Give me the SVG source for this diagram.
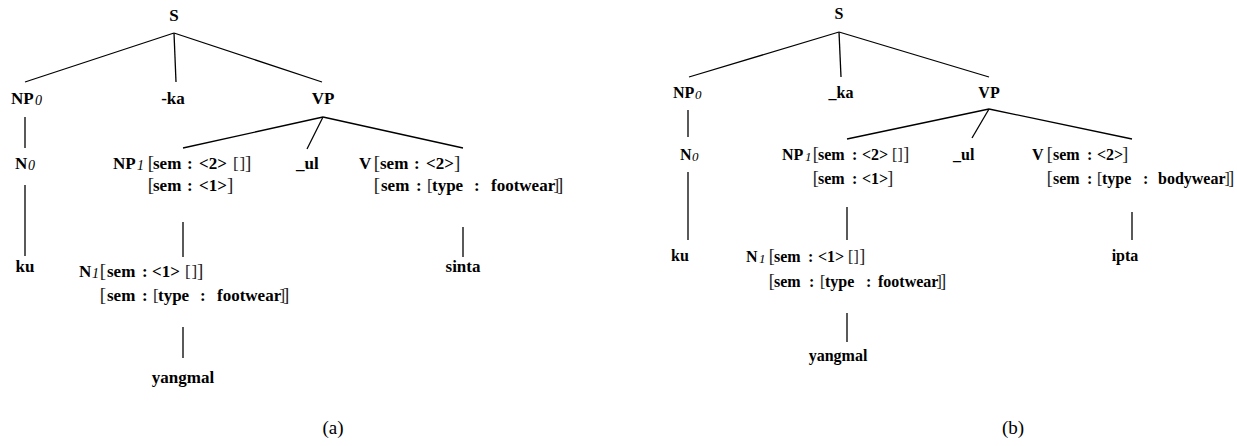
<svg xmlns="http://www.w3.org/2000/svg" width="1237" height="446" viewBox="0 0 1237 446">
<style>
text{font-family:'Liberation Serif','Times New Roman',serif;fill:#000}
.L text{font-size:17px;font-weight:bold}
.R text{font-size:16px;font-weight:bold}
.s{font-style:italic;font-weight:normal}
.L .s{font-size:14px}
.R .s{font-size:13px}
.bo{fill:#222;font-weight:normal}
.L .bo{font-size:19px}
.L .bi{font-size:17px}
.R .bo{font-size:18px}
.R .bi{font-size:16px}
.cap{font-size:19px;font-weight:normal}
#edges line{stroke:#000;stroke-width:1.3}
</style>
<rect width="1237" height="446" fill="#fff"/>
<g id="edges">
<line x1="174" y1="33" x2="25" y2="82"/>
<line x1="174" y1="33" x2="176" y2="82"/>
<line x1="174" y1="33" x2="322" y2="82"/>
<line x1="25" y1="117" x2="25" y2="148"/>
<line x1="25" y1="185" x2="25" y2="256"/>
<line x1="323" y1="117" x2="183" y2="148"/>
<line x1="323" y1="117" x2="307" y2="149"/>
<line x1="323" y1="117" x2="463" y2="148"/>
<line x1="183" y1="222" x2="183" y2="257"/>
<line x1="463" y1="227" x2="463" y2="257"/>
<line x1="183" y1="327" x2="183" y2="358"/>
<line x1="839" y1="32" x2="689" y2="77"/>
<line x1="839" y1="32" x2="841" y2="77"/>
<line x1="839" y1="32" x2="989" y2="77"/>
<line x1="688" y1="110" x2="688" y2="137"/>
<line x1="688" y1="172" x2="688" y2="240"/>
<line x1="989" y1="109" x2="847" y2="139"/>
<line x1="989" y1="109" x2="972" y2="138"/>
<line x1="989" y1="109" x2="1132" y2="139"/>
<line x1="847" y1="207" x2="847" y2="240"/>
<line x1="1132" y1="212" x2="1132" y2="240"/>
<line x1="847" y1="313" x2="847" y2="342"/>
</g>
<g class="L">
<g id="a-S"><text x="174" y="21" text-anchor="middle">S</text></g>
<g id="a-NP0"><text x="11" y="104">NP<tspan class="s" x="35" y="105">0</tspan></text></g>
<g id="a-ka"><text x="173" y="104" text-anchor="middle">-ka</text></g>
<g id="a-VP"><text x="323" y="104" text-anchor="middle">VP</text></g>
<g id="a-N0"><text x="15" y="169">N<tspan class="s" x="28" y="170">0</tspan></text></g>
<g id="a-ku"><text x="25" y="272" text-anchor="middle">ku</text></g>
<g id="a-NP1">
<text x="113" y="169">NP<tspan class="s" x="137" y="170">1</tspan></text>
<text y="169"><tspan class="bo" x="147.7">[</tspan><tspan x="153">sem</tspan><tspan x="187">:</tspan><tspan x="199">&lt;2&gt;</tspan><tspan class="bo bi" x="233">[</tspan><tspan class="bo bi" x="239.4">]</tspan><tspan class="bo" x="245">]</tspan></text>
<text y="191"><tspan class="bo" x="147.7">[</tspan><tspan x="153">sem</tspan><tspan x="187">:</tspan><tspan x="199">&lt;1&gt;</tspan><tspan class="bo" x="227">]</tspan></text>
</g>
<g id="a-ul"><text x="296" y="169">_ul</text></g>
<g id="a-V">
<text x="359" y="169">V</text>
<text y="169"><tspan class="bo" x="373.7">[</tspan><tspan x="380">sem</tspan><tspan x="414">:</tspan><tspan x="426">&lt;2&gt;</tspan><tspan class="bo" x="454">]</tspan></text>
<text y="191"><tspan class="bo" x="373.7">[</tspan><tspan x="381">sem</tspan><tspan x="416">:</tspan><tspan class="bo bi" x="427">[</tspan><tspan x="432">type</tspan><tspan x="474">:</tspan><tspan x="491">footwear</tspan><tspan class="bo bi" x="553.4">]</tspan><tspan class="bo" x="557">]</tspan></text>
</g>
<g id="a-sinta"><text x="463" y="272" text-anchor="middle">sinta</text></g>
<g id="a-N1">
<text x="79" y="277">N<tspan class="s" x="92" y="278">1</tspan></text>
<text y="277"><tspan class="bo" x="99.7">[</tspan><tspan x="107">sem</tspan><tspan x="142">:</tspan><tspan x="152">&lt;1&gt;</tspan><tspan class="bo bi" x="185">[</tspan><tspan class="bo bi" x="191.4">]</tspan><tspan class="bo" x="197">]</tspan></text>
<text y="301"><tspan class="bo" x="99.7">[</tspan><tspan x="107">sem</tspan><tspan x="142">:</tspan><tspan class="bo bi" x="153">[</tspan><tspan x="158">type</tspan><tspan x="200">:</tspan><tspan x="217">footwear</tspan><tspan class="bo bi" x="279.4">]</tspan><tspan class="bo" x="283">]</tspan></text>
</g>
<g id="a-yangmal"><text x="183" y="383" text-anchor="middle">yangmal</text></g>
</g>
<g class="R">
<g id="b-S"><text x="839" y="19" text-anchor="middle">S</text></g>
<g id="b-NP0"><text x="673" y="98">NP<tspan class="s" x="695" y="99">0</tspan></text></g>
<g id="b-ka"><text x="841" y="98" text-anchor="middle">_ka</text></g>
<g id="b-VP"><text x="989" y="98" text-anchor="middle">VP</text></g>
<g id="b-N0"><text x="680" y="160">N<tspan class="s" x="692" y="161">0</tspan></text></g>
<g id="b-ku"><text x="680" y="261" text-anchor="middle">ku</text></g>
<g id="b-NP1">
<text x="782" y="160">NP<tspan class="s" x="805" y="161">1</tspan></text>
<text y="160"><tspan class="bo" x="812.8">[</tspan><tspan x="818">sem</tspan><tspan x="852">:</tspan><tspan x="862">&lt;2&gt;</tspan><tspan class="bo bi" x="892">[</tspan><tspan class="bo bi" x="897.6">]</tspan><tspan class="bo" x="903.2">]</tspan></text>
<text y="184"><tspan class="bo" x="812.8">[</tspan><tspan x="818">sem</tspan><tspan x="852">:</tspan><tspan x="862">&lt;1&gt;</tspan><tspan class="bo" x="887.2">]</tspan></text>
</g>
<g id="b-ul"><text x="953" y="160">_ul</text></g>
<g id="b-V">
<text x="1032" y="160">V</text>
<text y="160"><tspan class="bo" x="1046.8">[</tspan><tspan x="1053">sem</tspan><tspan x="1087">:</tspan><tspan x="1097">&lt;2&gt;</tspan><tspan class="bo" x="1122.2">]</tspan></text>
<text y="184"><tspan class="bo" x="1046.8">[</tspan><tspan x="1053">sem</tspan><tspan x="1087">:</tspan><tspan class="bo bi" x="1097">[</tspan><tspan x="1102">type</tspan><tspan x="1143">:</tspan><tspan x="1158">bodywear</tspan><tspan class="bo bi" x="1224.6">]</tspan><tspan class="bo" x="1228.2">]</tspan></text>
</g>
<g id="b-ipta"><text x="1125" y="261" text-anchor="middle">ipta</text></g>
<g id="b-N1">
<text x="746" y="262">N<tspan class="s" x="759" y="263">1</tspan></text>
<text y="262"><tspan class="bo" x="768.8">[</tspan><tspan x="774">sem</tspan><tspan x="808">:</tspan><tspan x="818">&lt;1&gt;</tspan><tspan class="bo bi" x="848">[</tspan><tspan class="bo bi" x="853.6">]</tspan><tspan class="bo" x="859.2">]</tspan></text>
<text y="287"><tspan class="bo" x="768.8">[</tspan><tspan x="774">sem</tspan><tspan x="809">:</tspan><tspan class="bo bi" x="820">[</tspan><tspan x="825">type</tspan><tspan x="866">:</tspan><tspan x="878">footwear</tspan><tspan class="bo bi" x="936.6">]</tspan><tspan class="bo" x="940.2">]</tspan></text>
</g>
<g id="b-yangmal"><text x="838" y="361" text-anchor="middle">yangmal</text></g>
</g>
<g id="captions">
<text class="cap" x="333" y="434" text-anchor="middle">(a)</text>
<text class="cap" x="1013" y="434" text-anchor="middle">(b)</text>
</g>
</svg>
